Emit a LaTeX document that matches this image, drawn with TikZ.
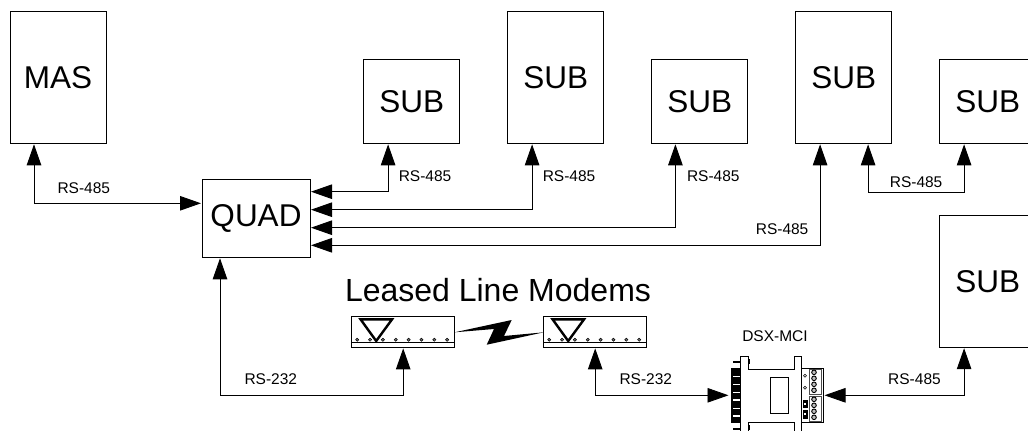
\documentclass[tikz,border=0pt]{standalone}
\usepackage{fontspec}
\setmainfont{Liberation Sans}
\usetikzlibrary{arrows.meta}
\tikzset{
  box/.style={draw=black,line width=0.9pt,fill=white,inner sep=0pt,outer sep=0pt,minimum width=96pt,font=\fontsize{31.5}{34}\selectfont},
  tallbox/.style={box,minimum height=131.6pt},
  shortbox/.style={box,minimum height=83.8pt},
  modembox/.style={draw=black,line width=0.9pt,inner sep=0pt,outer sep=0pt,minimum width=102.8pt,minimum height=30.8pt},
  link/.style={draw=black,line width=0.9pt,{Triangle[length=21pt,width=14.5pt]}-{Triangle[length=21pt,width=14.5pt]}},
  lbl/.style={inner sep=0pt,outer sep=0pt,anchor=base west,font=\fontsize{15.5}{18}\selectfont,text=black},
  part/.style={draw=black,line width=0.9pt},
  modem/.pic={
    \draw[line width=0.9pt] (-51.4,10.3) -- (51.4,10.3);
    \draw[line width=2.4pt,line join=miter] (-42.6,-12.6) -- (-11.2,-12.6) -- (-27,9) -- cycle;
    \foreach \i in {0,...,7}
      \draw[line width=0.5pt,fill=black!55] ({-46+12.85*\i},7.7) circle (1.6);
  }
}
\begin{document}
\begin{tikzpicture}[x=1pt,y=-1pt]
\clip (0,0) rectangle (1028,431);
\fill[white] (0,0) rectangle (1028,431);

\node[tallbox] (mas) at (58,77.5) {MAS};
\node[shortbox] (sub1) at (411.8,101.4) {SUB};
\node[tallbox] (sub2) at (555.8,77.5) {SUB};
\node[shortbox] (sub3) at (699.8,101.4) {SUB};
\node[tallbox] (sub4) at (843.8,77.5) {SUB};
\node[shortbox] (sub5) at (987.8,101.4) {SUB};
\node[tallbox] (sub6) at (987.8,281.4) {SUB};
\node[box,minimum width=108pt,minimum height=78pt] (quad) at (256,218.3) {QUAD};

\node[modembox] (modemA) at (403.2,332) {};
\node[modembox] (modemB) at (595.2,332) {};
\pic at (403.2,332) {modem};
\pic at (595.2,332) {modem};
\node[inner sep=0pt,anchor=base,font=\fontsize{32}{34}\selectfont] (leased) at (498,301.7) {Leased Line Modems};

% leased line bolt
\fill[black] (modemA.east |- 0,332.3) -- (511.7,320) -- (504,336) -- (modemB.west |- 0,332.3) -- (486.7,344.7) -- (494,329) -- cycle;

% DSX-MCI adapter
\node[inner sep=0pt,outer sep=0pt,minimum width=92pt,minimum height=70pt] (dsx) at (777.5,395.3) {};
\draw[part,line join=miter] (740.7,436) -- (740.7,356.7) -- (748.3,356.7) -- (748.3,369) -- (794,369) -- (794,356.7) -- (801.7,356.7) -- (801.7,436);
\draw[part] (748.3,436) -- (748.3,422.3) -- (794,422.3) -- (794,436);
\draw[part] (770.3,377.3) rectangle (788.7,413.3);
\fill[black] (731,368.3) rectangle (740,422.7);
\foreach \y in {376.7,384.3,392.3,400,408.3,416}
  \fill[white] (733,\y-0.7) rectangle (740,\y+0.7);
\draw[line width=2pt] (733,361.7) -- (740,361.7);
\draw[line width=2pt] (733,429.3) -- (740,429.3);
\fill[black] (748,359) rectangle (750,364);
\fill[black] (748,425) rectangle (750,430);
\draw[part] (801.7,368.3) rectangle (823.3,422.3);
\draw[part,black!70] (809,369.3) rectangle (821,394);
\draw[part,black!70] (809,396.7) rectangle (821,421.7);
\foreach \y in {372.3,378.3,384.3,390.3,399.3,405.3,411.3,417.3}
  \draw[line width=0.9pt,fill=black!25] (814,\y) circle (2.3);
\foreach \y in {375.7,387.7}
  \draw[line width=0.6pt] (805,\y) circle (1.5);
\fill[black] (803,400) rectangle (807.5,408);
\fill[black] (803,410) rectangle (807.5,419);
\fill[white] (804,402.5) rectangle (806,404.5);
\fill[white] (804,412.5) rectangle (806,414.5);
\node[lbl] (dsxlabel) at (742.3,341) {DSX-MCI};

% connectors
\coordinate (bendA) at (220,395.3);
\draw[link] ([xshift=24pt,yshift=-1pt]mas.south west) |- ([xshift=-1pt,yshift=-24pt]quad.north west);
\draw[link] ([xshift=24.3pt,yshift=-1pt]sub1.south west) |- ([xshift=1pt,yshift=-12.4pt]quad.north east);
\draw[link] ([xshift=24.3pt,yshift=-1pt]sub2.south west) |- ([xshift=1pt,yshift=-30.4pt]quad.north east);
\draw[link] ([xshift=23.6pt,yshift=-1pt]sub3.south west) |- ([xshift=1pt,yshift=-48.4pt]quad.north east);
\draw[link] ([xshift=24.3pt,yshift=-1pt]sub4.south west) |- ([xshift=1pt,yshift=-66pt]quad.north east);
\draw[link] ([xshift=72.3pt,yshift=-1pt]sub4.south west) -- ++(0,48.2) -| ([xshift=24.3pt,yshift=-1pt]sub5.south west);
\draw[link] ([xshift=-36pt,yshift=-1pt]quad.south) -- (bendA) -| ([yshift=-1pt]modemA.south);
\draw[link] ([yshift=-1pt]modemB.south) |- ([xshift=-3pt]dsx.west);
\draw[link] ([xshift=24.3pt,yshift=-1pt]sub6.south west) |- ([xshift=1pt]dsx.east);

\node[lbl] (l1) at (57.5,193) {RS-485};
\node[lbl] (l2) at (398.8,181) {RS-485};
\node[lbl] (l3) at (542.8,181) {RS-485};
\node[lbl] (l4) at (687,181) {RS-485};
\node[lbl] (l5) at (755.8,234.6) {RS-485};
\node[lbl] (l6) at (889.8,187) {RS-485};
\node[lbl] (l7) at (888.2,384.6) {RS-485};
\node[lbl] (l8) at (244.5,384.6) {RS-232};
\node[lbl] (l9) at (619.5,384.6) {RS-232};
\end{tikzpicture}
\end{document}
